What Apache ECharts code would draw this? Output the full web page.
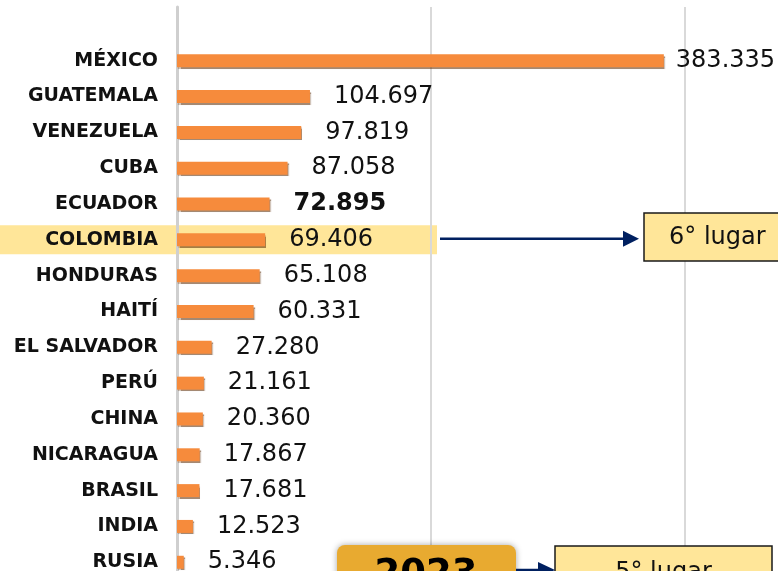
<!DOCTYPE html>
<html>
<head>
<meta charset="utf-8">
<script src="https://cdn.jsdelivr.net/npm/echarts@6/dist/echarts.min.js"></script>
<style>
html,body{margin:0;padding:0;background:#fff;}
#main{width:778px;height:571px;}
</style>
</head>
<body>
<div id="main"></div>
<script>
var paises = ['MÉXICO','GUATEMALA','VENEZUELA','CUBA','ECUADOR','COLOMBIA','HONDURAS','HAITÍ','EL SALVADOR','PERÚ','CHINA','NICARAGUA','BRASIL','INDIA','RUSIA'];
var valores = [383335,104697,97819,87058,72895,69406,65108,60331,27280,21161,20360,17867,17681,12523,5346];
var destacado = 'COLOMBIA';
var negrita = 'ECUADOR';
var ejeTicks = [0,200000,400000];

function miles(v){
	return String(v).replace(/\B(?=(\d{3})+(?!\d))/g,'.');
}

var myChart = echarts.init(document.getElementById('main'));

var datos = valores.map(function(v,i){
	var item = {value:v};
	if(i===0){
		item.label = {distance:12};
	}
	if(paises[i]===negrita){
		item.label = {fontWeight:'bold'};
	}
	return item;
});

var option = {
	animation:false,
	grid:{left:177,right:93,top:7,height:609,outerBoundsMode:'none',containLabel:false},
	xAxis:{
		type:'value',
		min:ejeTicks[0],
		max:ejeTicks[ejeTicks.length-1],
		interval:ejeTicks[1]-ejeTicks[0],
		axisLabel:{show:false},
		axisTick:{show:false},
		axisLine:{show:false},
		splitLine:{show:true,lineStyle:{color:'#d9d9d9',width:2}}
	},
	yAxis:{
		type:'category',
		data:paises,
		inverse:true,
		min:-1,
		max:15,
		axisTick:{show:false},
		axisLine:{show:true,lineStyle:{color:'#cfcfcf',width:3}},
		axisLabel:{
			margin:19,
			fontFamily:'DejaVu Sans',
			fontWeight:'bold',
			fontSize:19,
			color:'#111',
			formatter:function(v){ return (v==null||v==='undefined')?'':v; }
		}
	},
	series:[{
		type:'bar',
		data:datos,
		barWidth:13,
		itemStyle:{
			color:'#F68B3C',
			shadowColor:'rgba(90,40,0,0.55)',
			shadowOffsetX:1,
			shadowOffsetY:1.5,
			shadowBlur:1
		},
		label:{
			show:true,
			position:'right',
			distance:24,
			fontFamily:'DejaVu Sans',
			fontSize:24,
			color:'#111',
			formatter:function(p){ return miles(p.value); }
		}
	}]
};
myChart.setOption(option);

// recuadros y flechas
var cy = myChart.convertToPixel({yAxisIndex:0},destacado);
var navy = '#002060';
myChart.setOption({
	graphic:[
		{type:'rect',z:-1,shape:{x:0,y:cy-14.5,width:437,height:29},style:{fill:'#FFE699'}},
		{type:'line',shape:{x1:440,y1:cy-1,x2:626,y2:cy-1},style:{stroke:navy,lineWidth:2.5}},
		{type:'polygon',shape:{points:[[623,cy-9],[639,cy-1],[623,cy+7]]},style:{fill:navy}},
		{type:'rect',shape:{x:644,y:213,width:150,height:48},style:{fill:'#FFE699',stroke:'#1a1a1a',lineWidth:1.5}},
		{type:'text',x:669,y:237.5,style:{text:'6° lugar',font:'24px "DejaVu Sans"',fill:'#111',textVerticalAlign:'middle'}},

		{type:'rect',shape:{x:337,y:545,width:179,height:60,r:8},style:{fill:'#E8AA30',shadowBlur:6,shadowColor:'rgba(0,0,0,0.35)'}},
		{type:'text',x:426,y:575,style:{text:'2023',font:'bold 37px "DejaVu Sans"',fill:'#000',textAlign:'center',textVerticalAlign:'middle'}},
		{type:'line',shape:{x1:516,y1:570,x2:540,y2:570},style:{stroke:navy,lineWidth:2.5}},
		{type:'polygon',shape:{points:[[538,562],[555,570],[538,578]]},style:{fill:navy}},
		{type:'rect',shape:{x:555,y:546,width:217,height:50},style:{fill:'#FFE699',stroke:'#1a1a1a',lineWidth:1.5}},
		{type:'text',x:663.5,y:573,style:{text:'5° lugar',font:'24px "DejaVu Sans"',fill:'#111',textAlign:'center',textVerticalAlign:'middle'}}
	]
});
</script>
</body>
</html>
